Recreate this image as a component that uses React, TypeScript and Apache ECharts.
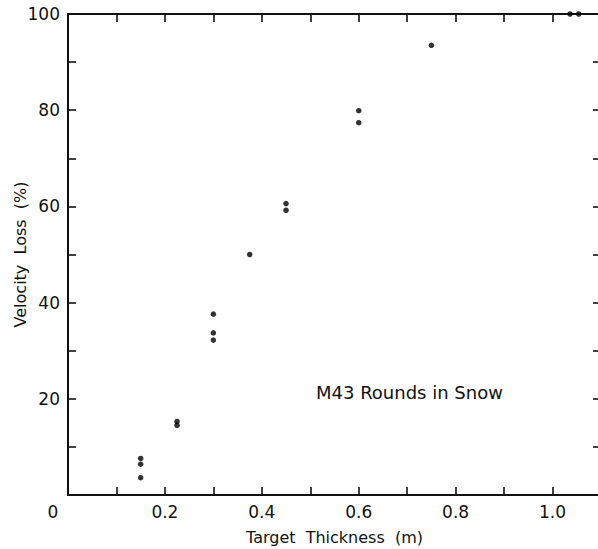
import React, { useEffect, useRef } from 'react';
import * as echarts from 'echarts';

const thickness = [0.15, 0.15, 0.15, 0.225, 0.225, 0.3, 0.3, 0.3, 0.375, 0.45, 0.45, 0.6, 0.6, 0.75, 1.036, 1.054];
const velocityLoss = [3.6, 6.4, 7.6, 14.5, 15.3, 32.2, 33.7, 37.6, 50, 59.2, 60.6, 77.4, 79.9, 93.5, 100, 100];
const xLabelValues = [0, 0.2, 0.4, 0.6, 0.8, 1.0];
const yLabelValues = [20, 40, 60, 80, 100];
const annotation = 'M43 Rounds in Snow';
const xName = 'Target  Thickness  (m)';
const yName = 'Velocity  Loss  (%)';

const INK = '#111';
const FONT = 'DejaVu Sans';

const tick = () => ({ show: true, inside: true, length: 8, lineStyle: { color: INK, width: 1.6 } });
const line = () => ({ show: true, onZero: false, lineStyle: { color: INK, width: 2 } });

export default function App() {
  const ref = useRef<HTMLDivElement>(null);
  useEffect(() => {
    if (!ref.current) return;
    const chart = echarts.init(ref.current, undefined, { renderer: 'svg' });
    chart.setOption({
      animation: false,
      backgroundColor: '#fff',
      grid: { left: 68, top: 14, right: -3, bottom: 54, containLabel: false, outerBoundsMode: 'none' },
      xAxis: [
        {
          type: 'value', min: 0, max: 1.1, interval: 0.1,
          position: 'bottom',
          axisLine: line(), axisTick: tick(), splitLine: { show: false },
          name: xName, nameLocation: 'middle', nameGap: 34, nameMoveOverlap: false,
          nameTextStyle: { color: INK, fontFamily: FONT, fontSize: 16 },
          axisLabel: {
            color: INK, fontFamily: FONT, fontSize: 17, margin: 8,
            showMaxLabel: false,
            formatter: (v: number) => {
              const hit = xLabelValues.find((t) => Math.abs(t - v) < 1e-6);
              if (hit === undefined) return '';
              if (hit === 0) return '{o|0}';
              return hit.toFixed(1);
            },
            rich: { o: { color: INK, fontFamily: FONT, fontSize: 17, padding: [0, 30, 0, 0] } },
          },
        },
        {
          type: 'value', min: 0, max: 1.1, interval: 0.1,
          position: 'top',
          axisLine: line(), axisTick: tick(), splitLine: { show: false },
          axisLabel: { show: false },
        },
      ],
      yAxis: [
        {
          type: 'value', min: 0, max: 100, interval: 10,
          position: 'left',
          axisLine: line(), axisTick: tick(), splitLine: { show: false },
          name: yName, nameLocation: 'middle', nameGap: 40, nameRotate: 90, nameMoveOverlap: false,
          nameTextStyle: { color: INK, fontFamily: FONT, fontSize: 16 },
          axisLabel: {
            color: INK, fontFamily: FONT, fontSize: 17, margin: 8,
            formatter: (v: number) => (yLabelValues.some((t) => Math.abs(t - v) < 1e-6) ? String(v) : ''),
          },
        },
        {
          type: 'value', min: 0, max: 100, interval: 10,
          position: 'right',
          axisLine: line(), axisTick: tick(), splitLine: { show: false },
          axisLabel: { show: false },
        },
      ],
      series: [
        {
          type: 'scatter',
          xAxisIndex: 0, yAxisIndex: 0,
          symbol: 'circle', symbolSize: 5.5,
          itemStyle: { color: '#000' },
          data: thickness.map((x, i) => [x, velocityLoss[i]]),
          clip: false,
        },
      ],
      graphic: [
        {
          type: 'text', left: 316, top: 383,
          style: { text: annotation, fill: INK, font: `18px "${FONT}"` },
        },
      ],
    });
    return () => chart.dispose();
  }, []);
  return <div ref={ref} style={{ position: 'absolute', left: 0, top: 0, width: 598, height: 549 }} />;
}
